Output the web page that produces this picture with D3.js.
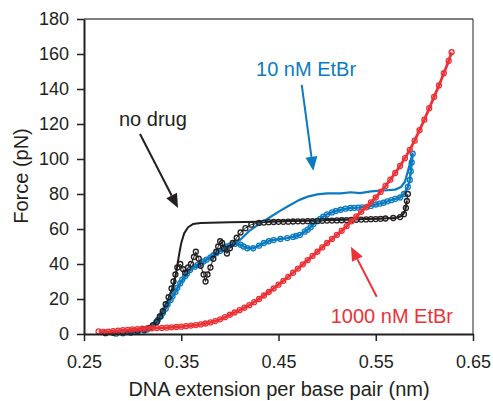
<!DOCTYPE html>
<html lang="en">
<head>
<meta charset="utf-8">
<title>Force extension curves</title>
<script src="https://cdn.jsdelivr.net/npm/d3@7"></script>
<style>
  body { margin: 0; background: #fff; }
  text { font-family: "Liberation Sans", Arial, Helvetica, sans-serif; }
</style>
</head>
<body>
<div id="chart"></div>
<script>

// axis ticks
var xTicks = [0.25, 0.35, 0.45, 0.55, 0.65];
var yTicks = [0, 20, 40, 60, 80, 100, 120, 140, 160, 180];

// no drug: stretch (line) and relax (circles), [extension nm, force pN]
var noDrugStretch = [
  [0.272, 0.5], [0.29, 0.8], [0.30, 1.2], [0.31, 2.0], [0.315, 3.4], [0.321, 6],
  [0.329, 12], [0.336, 19], [0.342, 27], [0.345, 36], [0.348, 46], [0.350, 52],
  [0.353, 57.5], [0.357, 61], [0.362, 62.8], [0.37, 63.4], [0.38, 63.6], [0.40, 63.8],
  [0.43, 64.2], [0.46, 64.6], [0.49, 65], [0.52, 65.4], [0.55, 65.8], [0.57, 66.3],
  [0.577, 67.5], [0.580, 70], [0.582, 76]
];
var noDrugRelax = [
  [0.583, 80], [0.582, 76], [0.581, 72], [0.579, 68.5], [0.575, 66.8], [0.568, 66.3],
  [0.56, 66], [0.555, 65.8], [0.55, 65.7], [0.545, 65.6], [0.54, 65.5], [0.535, 65.4],
  [0.53, 65.3], [0.525, 65.2], [0.52, 65.1], [0.515, 65], [0.51, 64.9], [0.505, 64.8],
  [0.50, 64.8], [0.495, 64.7], [0.49, 64.6], [0.485, 64.5], [0.48, 64.5], [0.475, 64.4],
  [0.47, 64.4], [0.465, 64.3], [0.46, 64.2], [0.455, 64.1], [0.45, 64.1], [0.445, 64],
  [0.44, 63.9], [0.435, 63.7], [0.43, 63.5], [0.422, 62.5], [0.416, 60.5], [0.411, 58],
  [0.407, 55], [0.403, 52], [0.400, 49], [0.397, 46], [0.394, 49], [0.392, 52], [0.390, 53],
  [0.388, 50], [0.386, 47], [0.383, 43], [0.380, 38], [0.377, 34], [0.375, 30],
  [0.373, 34], [0.370, 39], [0.368, 43], [0.365, 47], [0.363, 44], [0.360, 40],
  [0.357, 38], [0.354, 35], [0.352, 37], [0.349, 40], [0.346, 38], [0.344, 34],
  [0.342, 30], [0.340, 26], [0.337, 21], [0.334, 17], [0.331, 13], [0.328, 10],
  [0.325, 7], [0.321, 5], [0.317, 3.5], [0.312, 2.5], [0.305, 1.8], [0.298, 1.2],
  [0.29, 0.9], [0.28, 0.7], [0.272, 0.5]
];

// 10 nM EtBr: stretch (line) and relax (circles)
var tenStretch = [
  [0.29, 0.3], [0.30, 0.8], [0.31, 1.8], [0.318, 3.4], [0.329, 10], [0.339, 19.4],
  [0.349, 29], [0.359, 36.6], [0.370, 40.4], [0.383, 45], [0.392, 48.5], [0.401, 50.5],
  [0.411, 54], [0.421, 59.4], [0.432, 63.5], [0.442, 67], [0.452, 70.5], [0.462, 73.7],
  [0.471, 76.5], [0.480, 78.5], [0.490, 79.8], [0.500, 80.4], [0.514, 80.4],
  [0.524, 81], [0.534, 80.5], [0.545, 81.5], [0.558, 82], [0.570, 82.5], [0.576, 84],
  [0.580, 87], [0.584, 95], [0.588, 103.6]
];
var tenRelax = [
  [0.588, 103], [0.587, 98], [0.586, 93], [0.585, 88], [0.583, 84], [0.579, 80],
  [0.575, 78], [0.570, 77.2], [0.566, 76.5], [0.562, 75.8], [0.558, 75], [0.554, 74.5],
  [0.550, 74], [0.545, 73.2], [0.541, 72.6], [0.536, 72.4], [0.532, 72.2], [0.528, 72.1],
  [0.524, 72], [0.519, 71.6], [0.514, 71], [0.509, 70.3], [0.505, 69.5], [0.500, 68.4],
  [0.496, 67], [0.493, 65.8], [0.490, 64.5], [0.486, 62.8], [0.483, 61], [0.480, 59.6],
  [0.477, 58.5], [0.472, 56.6], [0.468, 56], [0.465, 55.5], [0.459, 54.8], [0.452, 54.3],
  [0.445, 53.7], [0.440, 53], [0.435, 52], [0.430, 50.5], [0.424, 49], [0.418, 49],
  [0.414, 50], [0.411, 51], [0.405, 51.5], [0.401, 50.8], [0.397, 50], [0.393, 48.5],
  [0.390, 47.5], [0.386, 46.2], [0.383, 45], [0.380, 43.8], [0.376, 42.5], [0.373, 41.5],
  [0.370, 40.4], [0.367, 39.5], [0.364, 38.5], [0.359, 36.6], [0.356, 34.6], [0.354, 33],
  [0.351, 31], [0.349, 29], [0.346, 26.5], [0.344, 24], [0.341, 21.6], [0.339, 19.4],
  [0.336, 16.8], [0.334, 14.5], [0.331, 12], [0.329, 10], [0.326, 8], [0.324, 6.5],
  [0.321, 4.8], [0.318, 3.4], [0.315, 2.6], [0.312, 2], [0.305, 1.2], [0.298, 0.7],
  [0.29, 0.4], [0.283, 0.2]
];

// 1000 nM EtBr (circles)
var thousandNM = [
  [0.265, 1.5], [0.270, 1.2], [0.275, 1.4], [0.280, 1.7], [0.285, 1.9], [0.290, 2.2],
  [0.295, 2.4], [0.300, 2.6], [0.305, 2.8], [0.310, 3.0], [0.315, 3.2], [0.320, 3.3],
  [0.325, 3.4], [0.330, 3.5], [0.335, 3.6], [0.340, 3.8], [0.345, 4.0], [0.350, 4.2],
  [0.355, 4.5], [0.360, 4.8], [0.365, 5.1], [0.370, 5.5], [0.375, 6.0], [0.380, 6.6],
  [0.385, 7.4], [0.390, 8.4], [0.395, 9.6], [0.400, 11.0], [0.405, 12.3], [0.410, 13.6],
  [0.415, 15.0], [0.420, 16.5], [0.425, 18.2], [0.430, 20.0], [0.435, 22.0], [0.440, 24.0],
  [0.445, 26.0], [0.450, 28.2], [0.455, 30.4], [0.460, 32.7], [0.465, 35.0], [0.470, 37.4],
  [0.475, 39.8], [0.480, 42.2], [0.485, 44.6], [0.490, 47.0], [0.495, 49.5], [0.500, 52.0],
  [0.505, 54.3], [0.510, 56.6], [0.515, 59.0], [0.520, 61.6], [0.525, 64.4], [0.530, 67.2],
  [0.535, 69.8], [0.540, 72.4], [0.545, 75.2], [0.550, 78.0], [0.555, 81.2], [0.560, 84.6],
  [0.565, 88.2], [0.570, 92.0], [0.575, 96.0], [0.580, 100.5], [0.585, 105.2], [0.590, 110.5],
  [0.595, 116.5], [0.600, 122.5], [0.605, 129.0], [0.610, 135.5], [0.615, 142.0],
  [0.620, 149.0], [0.625, 156.0], [0.628, 161.0]
];

var black = "#231f20", blue = "#0a7bc1", red = "#ec3237";

var width = 493, height = 401;
var x = d3.scaleLinear().domain([0.25, 0.65]).range([84, 473]);
var y = d3.scaleLinear().domain([0, 180]).range([334, 19]);

var svg = d3.select("#chart").append("svg")
  .attr("width", width).attr("height", height);

// frame (top and right)
svg.append("line")
  .attr("x1", x(0.25)).attr("x2", x(0.65)).attr("y1", y(180)).attr("y2", y(180))
  .attr("stroke", "#555").attr("stroke-width", 1.5);
svg.append("line")
  .attr("x1", x(0.65)).attr("x2", x(0.65)).attr("y1", y(180)).attr("y2", y(0))
  .attr("stroke", "#222").attr("stroke-width", 1);

var line = d3.line().x(function(d) { return x(d[0]); }).y(function(d) { return y(d[1]); });

function drawLine(data, color, w) {
  svg.append("path").datum(data)
    .attr("d", line).attr("fill", "none")
    .attr("stroke", color).attr("stroke-width", w)
    .attr("stroke-linejoin", "round");
}
function drawCircles(data, color, w) {
  svg.append("path").datum(data)
    .attr("d", line).attr("fill", "none")
    .attr("stroke", color).attr("stroke-width", w).attr("stroke-linejoin", "round");
  svg.append("g").selectAll("circle")
    .data(data).enter().append("circle")
    .attr("cx", function(d) { return x(d[0]); })
    .attr("cy", function(d) { return y(d[1]); })
    .attr("r", 2.5)
    .attr("fill", "none")
    .attr("stroke", color).attr("stroke-width", 1.3);
}

drawLine(noDrugStretch, black, 2);
drawLine(tenStretch, blue, 2.2);
drawCircles(tenRelax, blue, 2.4);
drawCircles(noDrugRelax, black, 1);
drawCircles(thousandNM, red, 2.8);

// axes
var yAxis = d3.axisLeft(y).tickValues(yTicks).tickSize(7).tickSizeOuter(0)
  .tickFormat(d3.format("d"));
var xAxis = d3.axisBottom(x).tickValues(xTicks).tickSize(7).tickSizeOuter(0)
  .tickFormat(d3.format(".2f"));

var gy = svg.append("g").attr("transform", "translate(" + x(0.25) + ",0)").call(yAxis);
var gx = svg.append("g").attr("transform", "translate(0," + y(0) + ")").call(xAxis);
[gx, gy].forEach(function(g) {
  g.select(".domain").attr("stroke", black).attr("stroke-width", 2);
  g.selectAll(".tick line").attr("stroke", black).attr("stroke-width", 1.5);
  g.selectAll(".tick text").attr("fill", black).style("font-size", "18px")
    .style("font-family", "'Liberation Sans', Arial, sans-serif");
});
gy.selectAll(".tick text").attr("x", -15);
gx.selectAll(".tick text").attr("y", 21);

// axis titles
svg.append("text")
  .attr("x", 279).attr("y", 396)
  .attr("text-anchor", "middle").attr("fill", black).style("font-size", "20px")
  .text("DNA extension per base pair (nm)");
svg.append("text")
  .attr("transform", "translate(28,176) rotate(-90)")
  .attr("text-anchor", "middle").attr("fill", black).style("font-size", "20px")
  .text("Force (pN)");

// annotations: label position, arrow start, arrow tip (data units)
var notes = [
  { text: "no drug", color: black, at: [0.286, 118.9], from: [0.3076, 114.3], to: [0.3467, 72] },
  { text: "10 nM EtBr", color: blue, at: [0.4269, 147.4], from: [0.4739, 142.3], to: [0.4858, 93.3] },
  { text: "1000 nM EtBr", color: red, at: [0.5037, 6.46], from: [0.551, 21.3], to: [0.5245, 49.9] }
];

notes.forEach(function(n) {
  svg.append("text")
    .attr("x", x(n.at[0])).attr("y", y(n.at[1]))
    .attr("fill", n.color).style("font-size", "20px")
    .text(n.text);
  var x1 = x(n.from[0]), y1 = y(n.from[1]), x2 = x(n.to[0]), y2 = y(n.to[1]);
  var a = Math.atan2(y2 - y1, x2 - x1), L = 14, W = 6;
  var bx = x2 - L * Math.cos(a), by = y2 - L * Math.sin(a);
  svg.append("line")
    .attr("x1", x1).attr("y1", y1).attr("x2", bx).attr("y2", by)
    .attr("stroke", n.color).attr("stroke-width", 2);
  svg.append("path")
    .attr("d", "M" + x2 + "," + y2 +
      "L" + (bx + W * Math.sin(a)) + "," + (by - W * Math.cos(a)) +
      "L" + (bx - W * Math.sin(a)) + "," + (by + W * Math.cos(a)) + "Z")
    .attr("fill", n.color);
});

</script>
</body>
</html>
